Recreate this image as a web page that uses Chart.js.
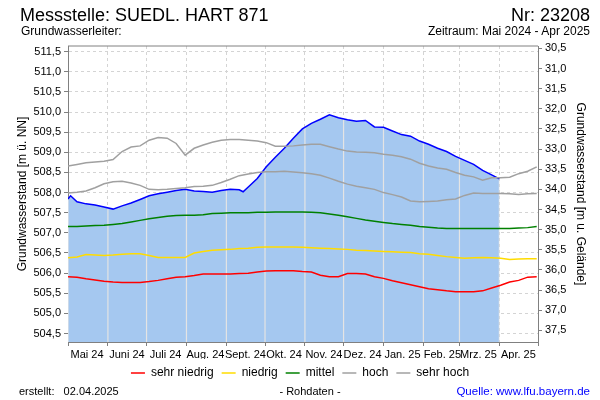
<!DOCTYPE html>
<html>
<head>
<meta charset="utf-8">
<script src="https://cdn.jsdelivr.net/npm/chart.js@4.4.1/dist/chart.umd.min.js"></script>
<style>
  html, body { margin: 0; padding: 0; background: #fff; }
  #wrap { position: relative; width: 600px; height: 400px; font-family: 'Liberation Sans', Arial, sans-serif; color: #000; }
  #wrap canvas { position: absolute; left: 0; top: 0; }
  .txt { position: absolute; white-space: pre; }
</style>
</head>
<body>
<div id="wrap">
  <canvas id="chart" width="600" height="400"></canvas>
  <div class="txt" style="left:20px;top:6px;font-size:18px;line-height:18px">Messstelle: SUEDL. HART 871</div>
  <div class="txt" style="right:10px;top:6px;font-size:18px;line-height:18px">Nr: 23208</div>
  <div class="txt" style="left:21px;top:25px;font-size:12px;line-height:12px">Grundwasserleiter:</div>
  <div class="txt" style="right:10px;top:25px;font-size:12px;line-height:12px">Zeitraum: Mai 2024 - Apr 2025</div>
  <div class="txt" style="left:19px;top:386px;font-size:11px;line-height:11px">erstellt:   02.04.2025</div>
  <div class="txt" style="left:310px;top:386px;font-size:11px;line-height:11px;transform:translateX(-50%)">- Rohdaten -</div>
  <div class="txt" style="right:10px;top:386px;font-size:11.5px;line-height:11px;color:#0000ff">Quelle: www.lfu.bayern.de</div>
</div>
<script>
// days counted from 1 May 2024
const monthStarts = [0, 31, 61, 92, 123, 153, 184, 214, 245, 276, 304, 335, 365]
const monthLabels = ['Mai 24', 'Juni 24', 'Juli 24', 'Aug. 24', 'Sept. 24', 'Okt. 24', 'Nov. 24',
  'Dez. 24', 'Jan. 25', 'Feb. 25', 'Mrz. 25', 'Apr. 25', '']

const leftTicks = [504.5, 505.0, 505.5, 506.0, 506.5, 507.0, 507.5, 508.0, 508.5, 509.0, 509.5, 510.0, 510.5, 511.0, 511.5]
const rightTicks = [30.5, 31.0, 31.5, 32.0, 32.5, 33.0, 33.5, 34.0, 34.5, 35.0, 35.5, 36.0, 36.5, 37.0, 37.5]
const yMin = 504.29
const yMax = 511.64
const groundLevel = 542.08

// measured level (m ü. NN)
const levelDays = [0, 2, 7, 14, 21, 28, 35, 42, 49, 56, 63, 70, 77, 84, 91, 98, 105, 112, 119, 126, 133, 136,
  140, 147, 154, 161, 168, 175, 182, 189, 196, 203, 210, 217, 224, 231, 238, 245, 252, 259, 266, 273,
  280, 287, 294, 301, 308, 315, 322, 329, 335]
const levelValues = [507.84, 507.92, 507.77, 507.72, 507.69, 507.64, 507.59, 507.67, 507.74, 507.83, 507.92,
  507.97, 508.01, 508.05, 508.08, 508.04, 508.03, 508.01, 508.05, 508.08, 508.07, 508.02,
  508.14, 508.35, 508.64, 508.88, 509.10, 509.35, 509.58, 509.72, 509.82, 509.93, 509.86, 509.81,
  509.77, 509.79, 509.63, 509.62, 509.53, 509.44, 509.40, 509.28,
  509.20, 509.10, 509.02, 508.90, 508.80, 508.70, 508.55, 508.44, 508.34]

// reference lines, weekly
const weekDays = [0, 7, 14, 21, 28, 35, 42, 49, 56, 63, 70, 77, 84, 91, 98, 105, 112, 119, 126, 133, 140,
  147, 154, 161, 168, 175, 182, 189, 196, 203, 210, 217, 224, 231, 238, 245, 252, 259, 266, 273, 280,
  287, 294, 301, 308, 315, 322, 329, 336, 343, 350, 357, 364]
const sehrNiedrig = [505.91, 505.90, 505.86, 505.83, 505.80, 505.78, 505.77, 505.77, 505.77, 505.79, 505.82,
  505.86, 505.90, 505.91, 505.94, 505.98, 505.98, 505.98, 505.98, 505.99, 506.00, 506.03, 506.05, 506.06,
  506.06, 506.06, 506.04, 506.03, 505.95, 505.91, 505.91, 505.99, 505.99, 505.98, 505.91, 505.87, 505.81,
  505.76, 505.71, 505.66, 505.61, 505.59, 505.56, 505.54, 505.54, 505.54, 505.56, 505.63, 505.70, 505.78,
  505.82, 505.90, 505.91]
const niedrig = [506.38, 506.40, 506.46, 506.45, 506.44, 506.45, 506.47, 506.48, 506.48, 506.44, 506.39,
  506.39, 506.39, 506.39, 506.50, 506.54, 506.57, 506.58, 506.59, 506.61, 506.62, 506.64, 506.65, 506.65,
  506.65, 506.65, 506.64, 506.63, 506.62, 506.61, 506.60, 506.59, 506.57, 506.56, 506.55, 506.54, 506.53,
  506.52, 506.51, 506.48, 506.47, 506.44, 506.41, 506.39, 506.37, 506.38, 506.39, 506.38, 506.37, 506.34,
  506.35, 506.36, 506.36]
const mittel = [507.16, 507.16, 507.17, 507.18, 507.19, 507.21, 507.23, 507.27, 507.31, 507.35, 507.38,
  507.41, 507.43, 507.44, 507.44, 507.45, 507.48, 507.49, 507.50, 507.50, 507.50, 507.51, 507.51, 507.52,
  507.52, 507.52, 507.52, 507.51, 507.50, 507.47, 507.44, 507.40, 507.36, 507.32, 507.29, 507.26, 507.23,
  507.21, 507.19, 507.16, 507.14, 507.12, 507.11, 507.11, 507.11, 507.11, 507.11, 507.11, 507.11, 507.11,
  507.12, 507.13, 507.16]
const hoch = [507.99, 508.01, 508.04, 508.12, 508.22, 508.27, 508.28, 508.24, 508.18, 508.08, 508.07,
  508.08, 508.10, 508.12, 508.15, 508.16, 508.18, 508.25, 508.33, 508.42, 508.46, 508.50, 508.52, 508.52,
  508.53, 508.51, 508.49, 508.47, 508.43, 508.36, 508.28, 508.21, 508.16, 508.12, 508.08, 508.00, 507.95,
  507.89, 507.79, 507.77, 507.78, 507.79, 507.82, 507.84, 507.93, 507.99, 507.98, 507.98, 507.98, 507.97,
  507.95, 507.97, 507.98]
const sehrHoch = [508.66, 508.70, 508.74, 508.76, 508.78, 508.82, 509.02, 509.13, 509.16, 509.30, 509.37,
  509.35, 509.22, 508.93, 509.10, 509.18, 509.25, 509.30, 509.32, 509.32, 509.30, 509.28, 509.24, 509.15,
  509.15, 509.16, 509.18, 509.20, 509.20, 509.14, 509.08, 509.03, 509.01, 509.00, 508.99, 508.95, 508.93,
  508.89, 508.83, 508.73, 508.66, 508.61, 508.58, 508.50, 508.43, 508.39, 508.31, 508.37, 508.37, 508.38,
  508.47, 508.53, 508.64]

const toPoints = (days, values) => days.map((d, i) => ({x: d, y: values[i]}))
const fmt = v => v.toFixed(1).replace('.', ',')

function refLine(label, values, color) {
  return {
    label: label,
    data: toPoints(weekDays, values),
    borderColor: color,
    backgroundColor: color,
    borderWidth: 1.5,
    pointRadius: 0,
    fill: false
  }
}

// light month lines only inside the blue area
const fillMonthLines = {
  id: 'fillMonthLines',
  beforeDatasetDraw(chart, args) {
    if (chart.data.datasets[args.index].label !== 'Messwert') return
    const pts = args.meta.data
    const {ctx, chartArea, scales} = chart
    ctx.save()
    ctx.beginPath()
    ctx.moveTo(pts[0].x, chartArea.bottom)
    pts.forEach(p => ctx.lineTo(p.x, p.y))
    ctx.lineTo(pts[pts.length - 1].x, chartArea.bottom)
    ctx.closePath()
    ctx.clip()
    ctx.strokeStyle = '#e4e4e4'
    ctx.lineWidth = 1.2
    scales.x.ticks.forEach(t => {
      const x = scales.x.getPixelForValue(t.value)
      ctx.beginPath()
      ctx.moveTo(x, chartArea.top)
      ctx.lineTo(x, chartArea.bottom)
      ctx.stroke()
    })
    ctx.restore()
  }
}

const topBorder = {
  id: 'topBorder',
  afterDatasetsDraw(chart) {
    const {ctx, chartArea} = chart
    ctx.save()
    ctx.strokeStyle = '#808080'
    ctx.lineWidth = 1
    ctx.beginPath()
    ctx.moveTo(chartArea.left, chartArea.top)
    ctx.lineTo(chartArea.right, chartArea.top)
    ctx.stroke()
    ctx.restore()
  }
}

Chart.defaults.font.family = "'Liberation Sans', Arial, sans-serif"
Chart.defaults.color = '#000'

new Chart(document.getElementById('chart'), {
  type: 'line',
  data: {
    datasets: [
      refLine('sehr niedrig', sehrNiedrig, '#ff0000'),
      refLine('niedrig', niedrig, '#ffdc00'),
      refLine('mittel', mittel, '#008000'),
      refLine('hoch', hoch, '#a0a0a0'),
      refLine('sehr hoch', sehrHoch, '#a0a0a0'),
      {
        label: 'Messwert',
        data: toPoints(levelDays, levelValues),
        borderColor: '#0000ff',
        backgroundColor: '#a5c8f0',
        borderWidth: 1.5,
        pointRadius: 0,
        fill: 'start'
      }
    ]
  },
  options: {
    responsive: false,
    animation: false,
    events: [],
    layout: {padding: {top: 46, left: 0, right: 0, bottom: 11}},
    scales: {
      x: {
        type: 'linear',
        min: 0,
        max: 365,
        afterBuildTicks: s => { s.ticks = monthStarts.map(v => ({value: v})) },
        afterFit: s => { s.height = 17 },
        ticks: {
          autoSkip: false,
          maxRotation: 0,
          labelOffset: 19,
          padding: 2,
          font: {size: 11},
          callback: v => monthLabels[monthStarts.indexOf(v)]
        },
        grid: {color: '#d4d4d4', tickColor: '#808080', tickLength: 4},
        border: {color: '#808080', dash: [3, 3]}
      },
      y: {
        type: 'linear',
        position: 'left',
        min: yMin,
        max: yMax,
        afterBuildTicks: s => { s.ticks = leftTicks.map(v => ({value: v})) },
        afterFit: s => { s.width = 68 },
        ticks: {padding: 3, font: {size: 11}, callback: v => fmt(v)},
        grid: {color: '#d4d4d4', tickColor: '#808080', tickLength: 4},
        border: {color: '#808080', dash: [3, 3]},
        title: {display: true, text: 'Grundwasserstand [m ü. NN]', font: {size: 12}, padding: {top: 15, bottom: 0}}
      },
      y2: {
        type: 'linear',
        position: 'right',
        reverse: true,
        min: groundLevel - yMax,
        max: groundLevel - yMin,
        afterBuildTicks: s => { s.ticks = rightTicks.map(v => ({value: v})) },
        afterFit: s => { s.width = 62 },
        ticks: {padding: 3, font: {size: 11}, callback: v => fmt(v)},
        grid: {drawOnChartArea: false, tickColor: '#808080', tickLength: 4},
        border: {color: '#808080'},
        title: {display: true, text: 'Grundwasserstand [m u. Gelände]', font: {size: 12}, padding: {top: 12, bottom: 0}}
      }
    },
    plugins: {
      tooltip: {enabled: false},
      legend: {
        position: 'bottom',
        labels: {
          usePointStyle: true,
          pointStyle: 'line',
          pointStyleWidth: 14,
          boxHeight: 12,
          padding: 8,
          font: {size: 12},
          filter: item => item.text !== 'Messwert'
        }
      }
    }
  },
  plugins: [fillMonthLines, topBorder]
})
</script>
</body>
</html>
